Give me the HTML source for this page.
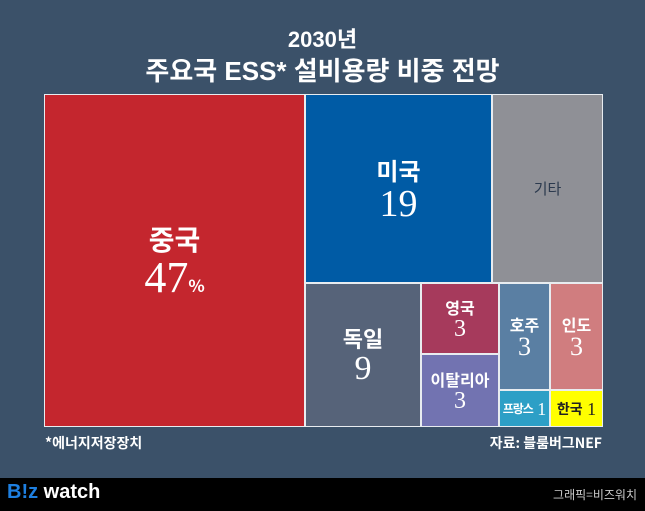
<!DOCTYPE html>
<html><head><meta charset="utf-8"><style>
*{margin:0;padding:0;box-sizing:border-box}
body{width:645px;height:511px;background:#3b5169;position:relative;overflow:hidden;font-family:"Liberation Sans","Noto Sans CJK KR",sans-serif;color:#fff}
.t{position:absolute;left:0;width:645px;text-align:center;font-weight:bold}
.b{position:absolute;display:flex;flex-direction:column;align-items:center;justify-content:center;text-align:center;white-space:nowrap}
.k{font-family:"Noto Sans CJK KR",sans-serif;font-weight:bold}
.n{font-family:"Liberation Serif",serif;line-height:1}
.frame{position:absolute;left:44px;top:94px;width:559px;height:333px;background:#e8ecf0}
</style></head><body>
<div class="t" style="top:26px;font-size:22px;line-height:28px">2030년</div>
<div class="t" style="top:54px;font-size:26px;line-height:34px">주요국 ESS* 설비용량 비중 전망</div>
<div class="frame"></div>
<div class="b" style="left:45px;top:95px;width:259px;height:331px;background:#c4262e"><div class="k" style="font-size:28px;line-height:34px">중국</div><div class="n" style="font-size:44px">47<span class="k" style="font-size:17px">%</span></div></div>
<div class="b" style="left:306px;top:95px;width:185px;height:187px;background:#005ba5"><div class="k" style="font-size:24px;line-height:30px">미국</div><div class="n" style="font-size:38px">19</div></div>
<div class="b" style="left:493px;top:95px;width:109px;height:187px;background:#8f9096"><div class="k" style="font-size:15px;color:#2c3a4e;font-weight:normal">기타</div></div>
<div class="b" style="left:306px;top:284px;width:114px;height:142px;background:#566379"><div class="k" style="font-size:22px;line-height:28px">독일</div><div class="n" style="font-size:34px">9</div></div>
<div class="b" style="left:422px;top:284px;width:76px;height:69px;background:#a63a5c"><div class="k" style="font-size:16px;line-height:20px">영국</div><div class="n" style="font-size:24px">3</div></div>
<div class="b" style="left:422px;top:355px;width:76px;height:71px;background:#7273b1"><div class="k" style="font-size:16px;line-height:20px">이탈리아</div><div class="n" style="font-size:24px">3</div></div>
<div class="b" style="left:500px;top:284px;width:49px;height:105px;background:#5a7fa3"><div class="k" style="font-size:16px;line-height:20px">호주</div><div class="n" style="font-size:26px">3</div></div>
<div class="b" style="left:551px;top:284px;width:51px;height:105px;background:#d07d7f"><div class="k" style="font-size:16px;line-height:20px">인도</div><div class="n" style="font-size:26px">3</div></div>
<div class="b" style="left:500px;top:391px;width:49px;height:35px;background:#2d9fc6;flex-direction:row"><span class="k" style="font-size:12px;letter-spacing:-1px">프랑스</span>&nbsp;<span class="n" style="font-size:18px">1</span></div>
<div class="b" style="left:551px;top:391px;width:51px;height:35px;background:#ffff00;color:#222;flex-direction:row"><span class="k" style="font-size:14px">한국</span>&nbsp;<span class="n" style="font-size:18px">1</span></div>
<div class="k" style="position:absolute;left:45px;top:433px;font-size:14px">*에너지저장장치</div>
<div class="k" style="position:absolute;right:43px;top:433px;font-size:14px">자료: 블룸버그NEF</div>
<div style="position:absolute;left:0;top:478px;width:645px;height:33px;background:#000"></div>
<div style="position:absolute;left:7px;top:481px;font-size:20px;font-weight:bold;font-family:'Liberation Sans',sans-serif"><span style="color:#1e7fe0">B!z</span> <span style="color:#fff">watch</span></div>
<div class="k" style="position:absolute;right:8px;top:486px;font-size:12px;font-weight:normal;color:#ccc">그래픽=비즈워치</div>
</body></html>
